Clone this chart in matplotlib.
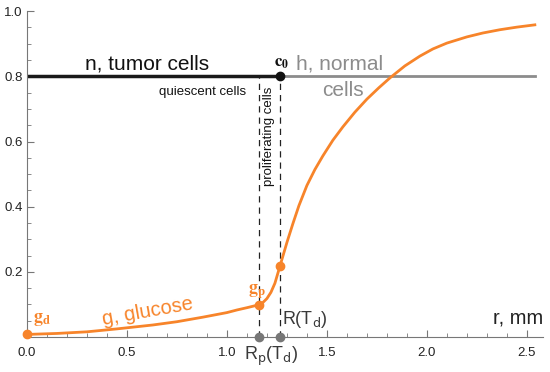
import matplotlib
matplotlib.use("Agg")
import matplotlib.pyplot as plt
from matplotlib.ticker import MultipleLocator, FormatStrFormatter

plt.rcParams['font.family'] = ['Liberation Sans', 'DejaVu Sans']

# glucose profile g(r)
r_g = [0.0, 0.15, 0.3, 0.45, 0.63, 0.75, 0.88, 1.0, 1.05, 1.1, 1.16, 1.18, 1.20, 1.22, 1.24,
       1.265, 1.30, 1.33, 1.36, 1.40, 1.44, 1.48, 1.53, 1.58, 1.64, 1.70, 1.76, 1.815,
       1.89, 1.965, 2.03, 2.1, 2.2, 2.28, 2.365, 2.45, 2.54]
g = [0.008, 0.011, 0.016, 0.025, 0.037, 0.047, 0.061, 0.075, 0.083, 0.090, 0.099, 0.106, 0.118,
     0.137, 0.165, 0.217, 0.29, 0.348, 0.403, 0.465, 0.514, 0.556, 0.604, 0.645, 0.69, 0.73,
     0.765, 0.795, 0.832, 0.862, 0.884, 0.902, 0.921, 0.933, 0.943, 0.951, 0.958]

n_level = 0.8
R_p = 1.16
R_d = 1.265
r_end = 2.54
g_d = 0.008
g_p = 0.099
g_R = 0.217

orange = '#f7842a'
gray = '#8c8c8c'
dark = '#3a3a3a'

fig = plt.figure(figsize=(5.5, 3.72), dpi=100)
ax = fig.add_axes([0.049, 0.094, 0.938, 0.876])

ax.plot(r_g, g, color=orange, lw=2, zorder=3, solid_joinstyle='round')

ax.plot([0, R_d], [n_level, n_level], color='#1a1a1a', lw=2.5, zorder=2)
ax.plot([R_d, r_end], [n_level, n_level], color=gray, lw=2, zorder=2)

ax.plot([R_p, R_p], [0, n_level], color='#222222', lw=0.9, ls=(0, (5, 4)), zorder=1)
ax.plot([R_d, R_d], [0, n_level], color='#222222', lw=0.9, ls=(0, (5, 4)), zorder=1)

ax.plot([0, R_p, R_d], [g_d, g_p, g_R], 'o', color=orange, ms=6, clip_on=False, zorder=4)
ax.plot([R_d], [n_level], 'o', color='#111111', ms=6, zorder=4)
ax.plot([R_p, R_d], [0, 0], 'o', color='#777777', ms=6, clip_on=False, zorder=4)

ax.set_xlim(0, 2.58)
ax.set_ylim(0, 1.0)
ax.xaxis.set_major_locator(MultipleLocator(0.5))
ax.xaxis.set_minor_locator(MultipleLocator(0.1))
ax.xaxis.set_major_formatter(FormatStrFormatter('%.1f'))
ax.set_yticks([0.2, 0.4, 0.6, 0.8, 1.0])
ax.yaxis.set_major_formatter(FormatStrFormatter('%.1f'))
ax.yaxis.set_minor_locator(MultipleLocator(0.05))
ax.tick_params(which='both', direction='in', color='#777777', labelsize=9.5, labelcolor='#222222')
ax.tick_params(which='major', length=5, width=0.8)
ax.tick_params(which='minor', length=3, width=0.6)
ax.tick_params(axis='x', pad=7)
ax.tick_params(axis='y', pad=3)
for s in ['top', 'right']:
    ax.spines[s].set_visible(False)
for s in ['left', 'bottom']:
    ax.spines[s].set_color('#777777')
    ax.spines[s].set_linewidth(0.8)

ax.text(0.6, 0.81, 'n, tumor cells', fontsize=15, color='#111111', ha='center', va='bottom')
ax.text(0.88, 0.752, 'quiescent cells', fontsize=9.5, color='#111111', ha='center', va='center')
ax.text(1.21, 0.615, 'proliferating cells', fontsize=9.5, color='#111111', rotation=90,
        ha='center', va='center')
ax.text(1.275, 0.815, r'$\mathbf{c_0}$', fontsize=12, color='#111111', ha='center', va='bottom',
        math_fontfamily='stix')
ax.text(1.565, 0.81, 'h, normal', fontsize=15, color=gray, ha='center', va='bottom')
ax.text(1.58, 0.785, 'cells', fontsize=15, color=gray, ha='center', va='top')
ax.text(0.605, 0.077, 'g, glucose', fontsize=14.5, color=orange, ha='center', va='center',
        rotation=10)
ax.text(0.03, 0.028, r'$\mathbf{g_d}$', fontsize=13, color=orange, ha='left', va='bottom',
        math_fontfamily='stix')
ax.text(1.105, 0.11, r'$\mathbf{g_p}$', fontsize=13, color=orange, ha='left', va='bottom',
        math_fontfamily='stix')
ax.text(1.275, 0.022, r'R(T$_\mathrm{d}$)', fontsize=13, color=dark, ha='left', va='bottom')
ax.text(1.22, -0.025, r'R$_\mathrm{p}$(T$_\mathrm{d}$)', fontsize=13, color=dark, ha='center', va='top')
ax.text(2.58, 0.03, 'r, mm', fontsize=14.5, color='#222222', ha='right', va='bottom')

fig.savefig('out.png', dpi=100)
